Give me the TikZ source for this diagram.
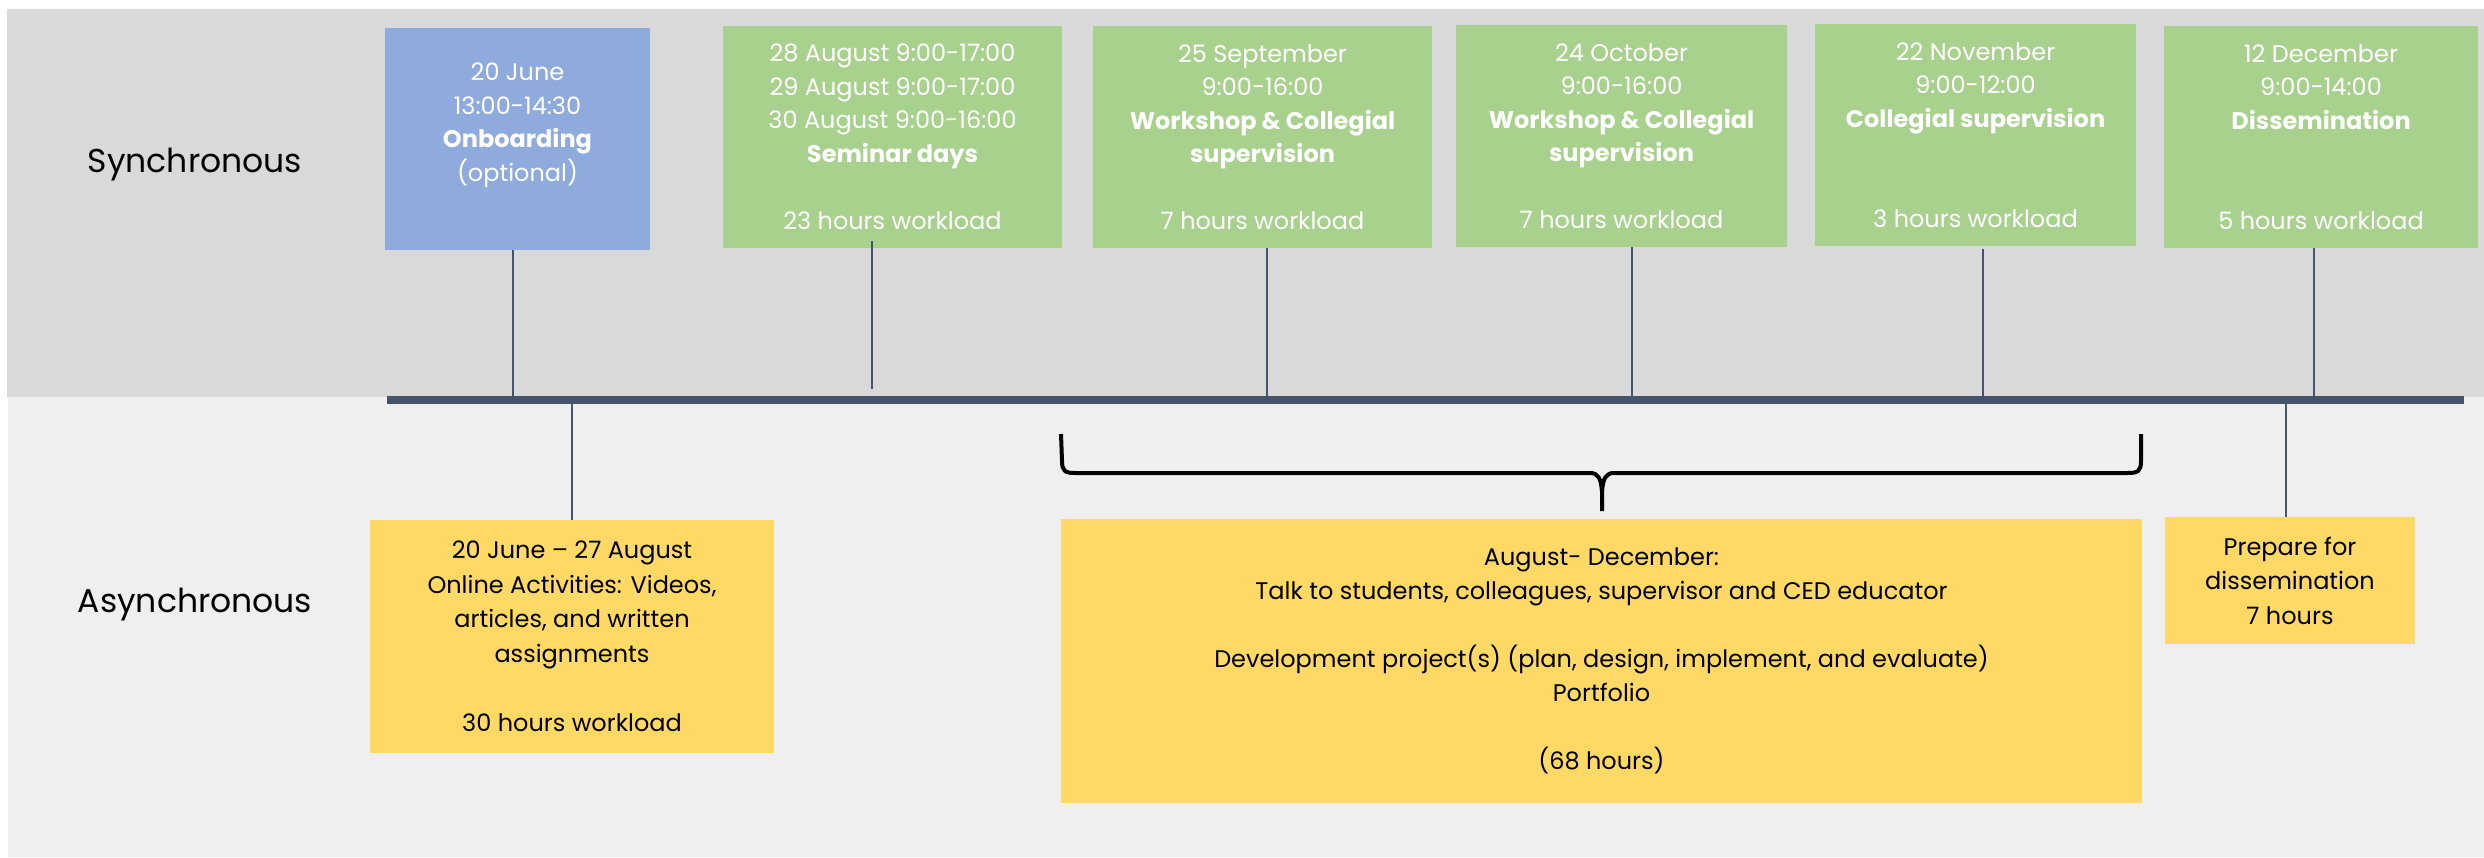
\documentclass[tikz,border=0pt]{standalone}
\usepackage{fontspec}
\setmainfont{Poppins}
\definecolor{syncbg}{HTML}{D9D9D9}
\definecolor{asyncbg}{HTML}{EFEFEF}
\definecolor{bluebox}{HTML}{8FAADC}
\definecolor{greenbox}{HTML}{A9D18E}
\definecolor{yellowbox}{HTML}{FFD966}
\definecolor{slate}{HTML}{44546A}
\begin{document}
\begin{tikzpicture}[x=1pt,y=-1pt,
  box/.style={rectangle, inner sep=0pt, align=center, font=\fontsize{24}{33.5}\selectfont},
  syncbox/.style={box, text=white},
  asyncbox/.style={box, fill=yellowbox, text=black, font=\fontsize{24}{34.5}\selectfont},
  rowlabel/.style={font=\fontsize{33}{40}\selectfont, text=black},
  conn/.style={draw=slate, line width=1.8pt},
  bracepath/.style={draw=black, line width=4pt, line join=round}]
\useasboundingbox (0,0) rectangle (2484,858);
% bands
\fill[syncbg] (7,9) rectangle (2484,397);
\fill[asyncbg] (8,397) rectangle (2484,857);
% row labels
\node[rowlabel] (synclabel) at (195,165) {Synchronous};
\node[rowlabel] (asynclabel) at (195,605) {Asynchronous};
% timeline
\node[rectangle, fill=slate, inner sep=0pt, minimum width=2077pt, minimum height=8pt] (tl) at (1425.5,400) {};
% synchronous boxes
\node[syncbox, fill=bluebox, minimum width=265pt, minimum height=222pt] (blue) at (517.5,139)
  {20 June\\13:00-14:30\\\textbf{Onboarding}\\(optional)\\[-10pt]\strut};
\node[syncbox, fill=greenbox, minimum width=339pt, minimum height=222pt] (g1) at (892.5,137)
  {28 August 9:00-17:00\\29 August 9:00-17:00\\30 August 9:00-16:00\\\textbf{Seminar days}\\[33.5pt]23 hours workload};
\node[syncbox, fill=greenbox, minimum width=339pt, minimum height=222pt] (g2) at (1262.5,137)
  {25 September\\9:00-16:00\\\textbf{Workshop \& Collegial}\\\textbf{supervision}\\[33.5pt]7 hours workload};
\node[syncbox, fill=greenbox, minimum width=331pt, minimum height=222pt] (g3) at (1621.5,136)
  {24 October\\9:00-16:00\\\textbf{Workshop \& Collegial}\\\textbf{supervision}\\[33.5pt]7 hours workload};
\node[syncbox, fill=greenbox, minimum width=321pt, minimum height=222pt] (g4) at (1975.5,135)
  {22 November\\9:00-12:00\\\textbf{Collegial supervision}\\[67pt]3 hours workload};
\node[syncbox, fill=greenbox, minimum width=314pt, minimum height=222pt] (g5) at (2321,137)
  {12 December\\9:00-14:00\\\textbf{Dissemination}\\[67pt]5 hours workload};
% asynchronous boxes
\node[asyncbox, minimum width=404pt, minimum height=233pt] (y1) at (572,636.5)
  {20 June – 27 August\\Online Activities: Videos,\\articles, and written\\assignments\\[34.5pt]30 hours workload};
\node[asyncbox, font=\fontsize{24}{34}\selectfont, minimum width=1081pt, minimum height=284pt] (y2) at (1601.5,661)
  {August- December:\\Talk to students, colleagues, supervisor and CED educator\\[34pt]Development project(s) (plan, design, implement, and evaluate)\\Portfolio\\[34pt](68 hours)};
\node[asyncbox, minimum width=250pt, minimum height=127pt] (y3) at (2290,580.5)
  {Prepare for\\dissemination\\7 hours};
% connectors to timeline
\draw[conn] ([xshift=-4.5pt]blue.south) -- ([xshift=-4.5pt]blue.south |- tl.north);
\path ([xshift=-20.5pt]g1.south |- tl.north) ++(0,-7) coordinate (g1end);
\draw[conn] ([xshift=-20.5pt,yshift=7pt]g1.south) -- (g1end);
\draw[conn] ([xshift=4.5pt]g2.south) -- ([xshift=4.5pt]g2.south |- tl.north);
\draw[conn] ([xshift=10.5pt]g3.south) -- ([xshift=10.5pt]g3.south |- tl.north);
\draw[conn] ([xshift=7.5pt,yshift=-3pt]g4.south) -- ([xshift=7.5pt]g4.south |- tl.south);
\draw[conn] ([xshift=-7pt]g5.south) -- ([xshift=-7pt]g5.south |- tl.north);
\draw[conn] (y1.north |- tl.south) -- (y1.north);
\draw[conn] ([xshift=-4pt]y3.north |- tl.south) -- ([xshift=-4pt]y3.north);
% brace over the Aug-Dec box
\draw[bracepath] (1061,434) -- (1062,461) .. controls (1062,471) and (1065,473) .. (1075,473)
  -- (1590,473) .. controls (1598,473) and (1601,478) .. (1602,492) -- (1602,511);
\draw[bracepath] (1602,492) .. controls (1603,478) and (1606,473) .. (1614,473)
  -- (2128,473) .. controls (2138,473) and (2141,471) .. (2141,461) -- (2141,434);
\end{tikzpicture}
\end{document}
